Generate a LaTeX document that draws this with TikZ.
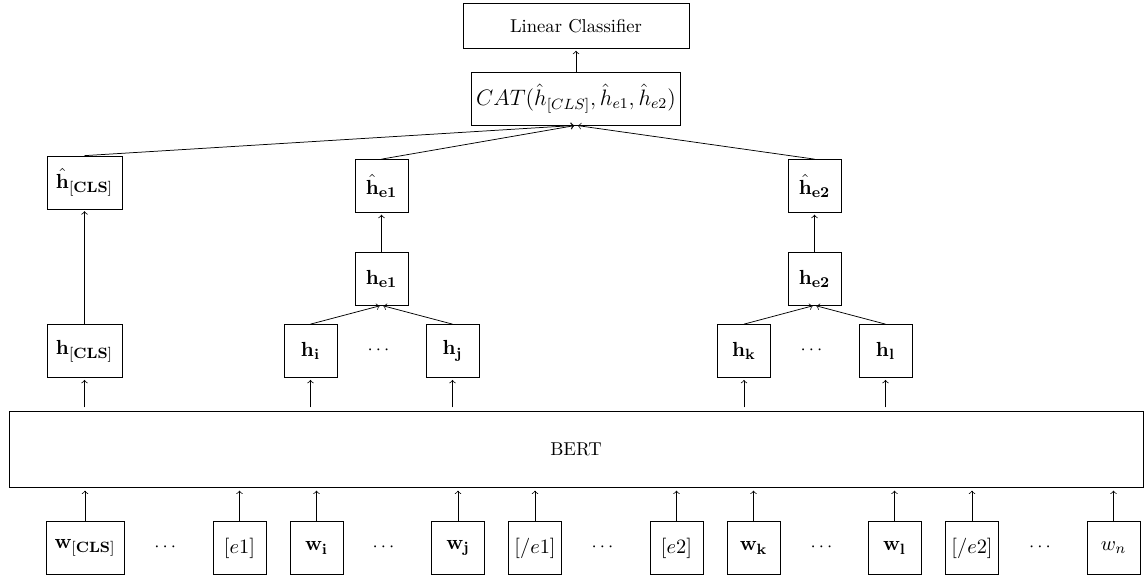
\documentclass[tikz,border=0pt]{standalone}
\usepackage{amsmath}
\begin{document}
\begin{tikzpicture}[x=0.018868cm, y=-0.018868cm,
  box/.style={draw, minimum width=1cm, minimum height=1cm, inner sep=2.5pt,
    font=\fontsize{10.95}{13.6}\selectfont},
  wide/.style={minimum width=1.42cm},
  arr/.style={->, shorten >=1pt},
  up/.style={->, shorten <=2.1pt, shorten >=1.1pt},
  inp/.style={->, shorten >=1.6pt},
  dots/.style={inner sep=0pt}]
\useasboundingbox (0,0) rectangle (1144,577);

% classifier head
\node[draw, minimum width=4.27cm, minimum height=0.85cm] (lin) at (576,26) {Linear Classifier};
\node[draw, minimum height=1cm, inner sep=2.4pt, font=\large] (cat) at (576,98.5)
  {$CAT(\hat{h}_{[CLS]}, \hat{h}_{e1}, \hat{h}_{e2})$};

% pooled representations
\node[box, wide] (hclshat) at (84.5,182.5) {$\hat{\mathbf{h}}_{\mathbf{[CLS]}}$};
\node[box] (he1hat) at (381.5,186) {$\hat{\mathbf{h}}_{\mathbf{e1}}$};
\node[box] (he2hat) at (814.5,186) {$\hat{\mathbf{h}}_{\mathbf{e2}}$};

\node[box] (he1) at (381.5,278.5) {$\mathbf{h_{e1}}$};
\node[box] (he2) at (814.5,278.5) {$\mathbf{h_{e2}}$};

% BERT outputs
\node[box, wide] (hcls) at (84.5,351) {$\mathbf{h_{[CLS]}}$};
\node[box] (hi) at (310.5,351) {$\mathbf{h_i}$};
\node[dots] (hd1) at (380,350) {$\cdots$};
\node[box] (hj) at (452.5,351) {$\mathbf{h_j}$};
\node[box] (hk) at (744,351) {$\mathbf{h_k}$};
\node[dots] (hd2) at (813,350) {$\cdots$};
\node[box] (hl) at (885.5,351) {$\mathbf{h_l}$};

% encoder
\node[draw, minimum width=21.4cm, minimum height=1.426cm] (bert) at (576,449.5) {BERT};

% input tokens
\node[box, minimum width=1.47cm] (wcls) at (85,548) {$\mathbf{w_{[CLS]}}$};
\node[dots] (d1) at (166.7,547.3) {$\cdots$};
\node[box] (e1) at (239.5,548) {$[e1]$};
\node[box] (wi) at (316.5,548) {$\mathbf{w_i}$};
\node[dots] (d2) at (385,547.3) {$\cdots$};
\node[box] (wj) at (458,548) {$\mathbf{w_j}$};
\node[box] (e1c) at (535,548) {$[/e1]$};
\node[dots] (d3) at (604,547.3) {$\cdots$};
\node[box] (e2) at (676.5,548) {$[e2]$};
\node[box] (wk) at (753.5,548) {$\mathbf{w_k}$};
\node[dots] (d4) at (823,547.3) {$\cdots$};
\node[box] (wl) at (894.5,548) {$\mathbf{w_l}$};
\node[box] (e2c) at (972,548) {$[/e2]$};
\node[dots] (d5) at (1041.6,547.3) {$\cdots$};
\node[box] (wn) at (1113.5,548) {$w_n$};

% tokens into BERT
\foreach \t in {wcls,e1,wi,wj,e1c,e2,wk,wl,e2c,wn}
  \draw[inp] (\t.north) -- (\t.north |- bert.south);

% BERT to hidden states
\foreach \t in {hcls,hi,hj,hk,hl}
  \draw[up] (\t.south |- bert.north) -- (\t.south);

% entity pooling
\draw[arr] (hi.north) -- (he1.south);
\draw[arr] (hj.north) -- (he1.south);
\draw[arr] (hk.north) -- (he2.south);
\draw[arr] (hl.north) -- (he2.south);

\draw[arr] (hcls.north) -- (hclshat.south);
\draw[arr] (he1.north) -- (he1hat.south);
\draw[arr] (he2.north) -- (he2hat.south);

% concatenation and classification
\draw[arr] (hclshat.north) -- (cat.south);
\draw[arr] (he1hat.north) -- (cat.south);
\draw[arr] (he2hat.north) -- (cat.south);
\draw[arr] (cat.north) -- (lin.south);
\end{tikzpicture}
\end{document}
